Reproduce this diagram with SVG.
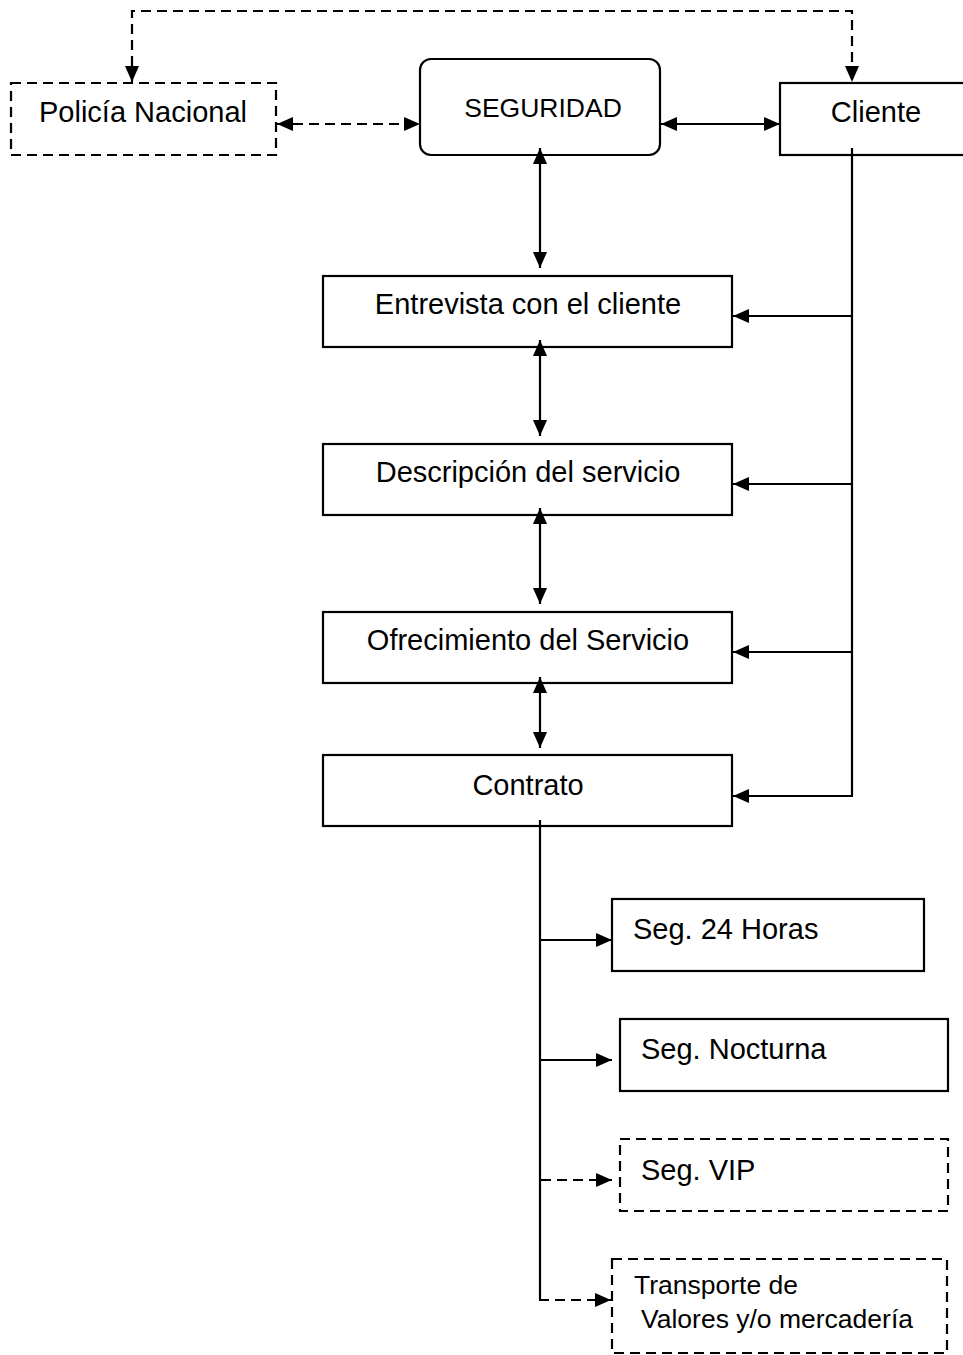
<svg xmlns="http://www.w3.org/2000/svg" width="963" height="1355" viewBox="0 0 963 1355">
<style>
.box{fill:#fff;stroke:#000;stroke-width:2.2}
.dash{stroke-dasharray:10 6}
.ln{fill:none;stroke:#000;stroke-width:2.2}
.t{font-family:"Liberation Sans",Arial,sans-serif;fill:#000}
.c{text-anchor:middle}
</style>
<defs>
<marker id="ah" markerUnits="userSpaceOnUse" markerWidth="16" markerHeight="14" refX="16" refY="7" orient="auto-start-reverse" viewBox="0 0 16 14">
<path d="M0,0 L16,7 L0,14 z" fill="#000"/>
</marker>
</defs>
<g id="policia">
<rect class="box dash" x="11" y="83" width="265" height="72"/>
<text class="t c" x="143" y="122" font-size="29">Policía Nacional</text>
</g>
<g id="seguridad">
<rect class="box" x="420" y="59" width="240" height="96" rx="11"/>
<text class="t c" x="543" y="117" font-size="26.5">SEGURIDAD</text>
</g>
<g id="cliente">
<rect class="box" x="780" y="83" width="200" height="72"/>
<text class="t c" x="876" y="122" font-size="29">Cliente</text>
</g>
<g id="entrevista">
<rect class="box" x="323" y="276" width="409" height="71"/>
<text class="t c" x="528" y="314" font-size="29">Entrevista con el cliente</text>
</g>
<g id="descripcion">
<rect class="box" x="323" y="444" width="409" height="71"/>
<text class="t c" x="528" y="482" font-size="29">Descripción del servicio</text>
</g>
<g id="ofrecimiento">
<rect class="box" x="323" y="612" width="409" height="71"/>
<text class="t c" x="528" y="650" font-size="29">Ofrecimiento del Servicio</text>
</g>
<g id="contrato">
<rect class="box" x="323" y="755" width="409" height="71"/>
<text class="t c" x="528" y="795" font-size="29">Contrato</text>
</g>
<g id="seg24">
<rect class="box" x="612" y="899" width="312" height="72"/>
<text class="t" x="633" y="939" font-size="29">Seg. 24 Horas</text>
</g>
<g id="nocturna">
<rect class="box" x="620" y="1019" width="328" height="72"/>
<text class="t" x="641" y="1059" font-size="29">Seg. Nocturna</text>
</g>
<g id="vip">
<rect class="box dash" x="620" y="1139" width="328" height="72"/>
<text class="t" x="641" y="1180" font-size="29">Seg. VIP</text>
</g>
<g id="transporte">
<rect class="box dash" x="612" y="1259" width="335" height="94"/>
<text class="t" x="634" y="1294" font-size="26.5">Transporte de</text>
<text class="t" x="641" y="1328" font-size="26.5">Valores y/o mercadería</text>
</g>
<g id="connectors">
<path class="ln dash" d="M132,82 V11 H852 V82" marker-start="url(#ah)" marker-end="url(#ah)"/>
<line class="ln dash" x1="277" y1="124" x2="420" y2="124" marker-start="url(#ah)" marker-end="url(#ah)"/>
<line class="ln" x1="661" y1="124" x2="780" y2="124" marker-start="url(#ah)" marker-end="url(#ah)"/>
<line class="ln" x1="540" y1="148" x2="540" y2="268" marker-start="url(#ah)" marker-end="url(#ah)"/>
<line class="ln" x1="540" y1="340" x2="540" y2="436" marker-start="url(#ah)" marker-end="url(#ah)"/>
<line class="ln" x1="540" y1="508" x2="540" y2="604" marker-start="url(#ah)" marker-end="url(#ah)"/>
<line class="ln" x1="540" y1="677" x2="540" y2="748" marker-start="url(#ah)" marker-end="url(#ah)"/>
<path class="ln" d="M852,148 V796"/>
<line class="ln" x1="852" y1="316" x2="733" y2="316" marker-end="url(#ah)"/>
<line class="ln" x1="852" y1="484" x2="733" y2="484" marker-end="url(#ah)"/>
<line class="ln" x1="852" y1="652" x2="733" y2="652" marker-end="url(#ah)"/>
<line class="ln" x1="853" y1="796" x2="733" y2="796" marker-end="url(#ah)"/>
<path class="ln" d="M540,820 V1300"/>
<line class="ln" x1="539" y1="940" x2="612" y2="940" marker-end="url(#ah)"/>
<line class="ln" x1="539" y1="1060" x2="612" y2="1060" marker-end="url(#ah)"/>
<line class="ln dash" x1="541" y1="1180" x2="612" y2="1180" marker-end="url(#ah)"/>
<line class="ln dash" x1="539" y1="1300" x2="611" y2="1300" marker-end="url(#ah)"/>
</g>
</svg>
